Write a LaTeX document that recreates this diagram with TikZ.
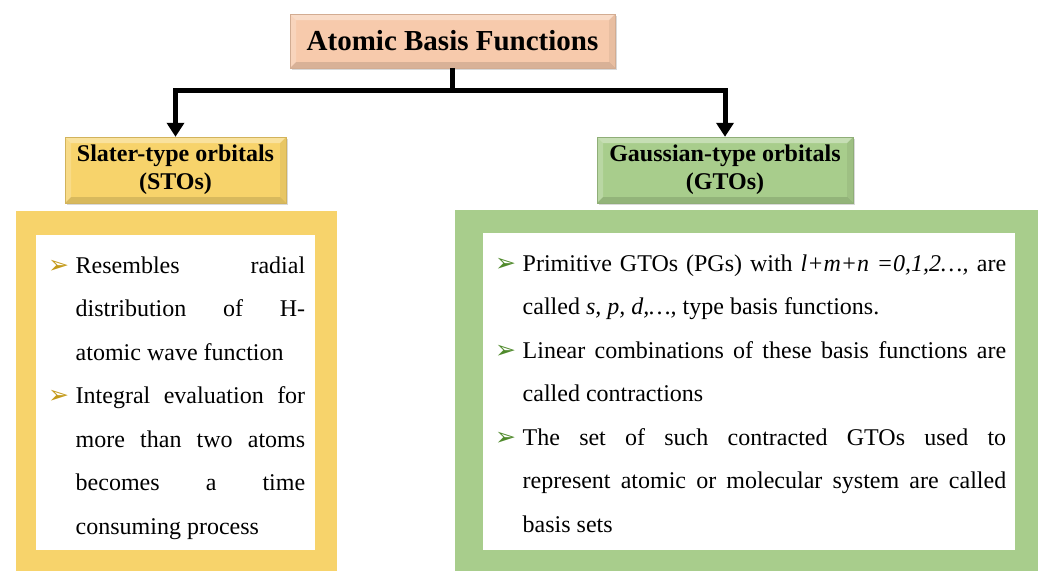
\documentclass[tikz,border=0pt]{standalone}
\usepackage{fontspec}
\setmainfont{Liberation Serif}
\newfontfamily\symfont{DejaVu Sans}
\usetikzlibrary{arrows.meta,shadows}
\definecolor{peach}{HTML}{F7CAAC}
\definecolor{gold}{HTML}{F7D36B}
\definecolor{leaf}{HTML}{A8CD8C}
\definecolor{goldbul}{HTML}{C49A18}
\definecolor{leafbul}{HTML}{4F8A2B}
\newcommand{\bul}[1]{\hangindent=27.5pt\hangafter=1\noindent\makebox[27.5pt][l]{\symfont\bfseries\fontsize{25}{25}\selectfont\textcolor{#1}{➢}}}
\tikzset{
  bevel/.style={path picture={
    \path (path picture bounding box.north west) coordinate (bnw)
          (path picture bounding box.north east) coordinate (bne)
          (path picture bounding box.south east) coordinate (bse)
          (path picture bounding box.south west) coordinate (bsw);
    \fill[white,opacity=.35] (bnw) -- (bne) -- ([shift={(-6pt,-6pt)}]bne) -- ([shift={(6pt,-6pt)}]bnw) -- cycle;
    \fill[white,opacity=.2] (bnw) -- ([shift={(6pt,-6pt)}]bnw) -- ([shift={(6pt,6pt)}]bsw) -- (bsw) -- cycle;
    \fill[black,opacity=.12] (bsw) -- ([shift={(6pt,6pt)}]bsw) -- ([shift={(-6pt,6pt)}]bse) -- (bse) -- cycle;
    \fill[black,opacity=.06] (bse) -- ([shift={(-6pt,6pt)}]bse) -- ([shift={(-6pt,-6pt)}]bne) -- (bne) -- cycle;
  }},
  head/.style={fill=#1, draw=#1!85!black, line width=.4pt, bevel,
    drop shadow={opacity=.3, shadow xshift=1.5pt, shadow yshift=-1.5pt},
    font=\bfseries\fontsize{24}{28}\selectfont, align=center, inner sep=0pt},
  panel/.style={fill=#1, draw=white, line width=3pt,
    drop shadow={opacity=.25, shadow xshift=-1pt, shadow yshift=-1.5pt}},
  whitebox/.style={fill=white, inner sep=0pt},
  bodytext/.style={anchor=base west, inner sep=0pt, align=justify},
  conn/.style={line width=5pt},
  arr/.style={conn, -{Triangle[width=17pt,length=14pt]}}
}
\begin{document}
\begin{tikzpicture}[x=1pt, y=-1pt, font=\fontsize{24}{43.5}\selectfont]
    \useasboundingbox (0,0) rectangle (1038,574);
\node[head=peach, minimum width=325pt, minimum height=54pt, font=\bfseries\fontsize{29}{32}\selectfont] (title) at (452.5,41) {Atomic Basis Functions};
\node[head=gold, minimum width=221pt, minimum height=66pt] (sto) at (175.5,170) {Slater-type orbitals\\(STOs)};
\node[head=leaf, minimum width=256pt, minimum height=66pt] (gto) at (725,170) {Gaussian-type orbitals\\(GTOs)};
\coordinate (split) at (452.5,90);
\draw[conn] (title.south) -- (split);
\draw[arr] (split) -| (sto.north);
\draw[arr] (split) -| (gto.north);
\node[panel=gold, minimum width=324pt, minimum height=363pt] (stopanel) at (176,390.5) {};
\node[panel=leaf, minimum width=620pt, minimum height=364pt] (gtopanel) at (763,390) {};
\node[whitebox, minimum width=279pt, minimum height=315pt] (stoin) at (175.5,392.5) {};
\node[whitebox, minimum width=532pt, minimum height=317pt] (gtoin) at (749,391.5) {};
    \node[bodytext, text width=257pt] (stotext) at (48,273) {\bul{goldbul}Resembles radial\linebreak distribution of H-\linebreak atomic wave function\par
\bul{goldbul}Integral evaluation for\linebreak more than two atoms\linebreak becomes a time\linebreak consuming process\par};
    \node[bodytext, text width=511pt] (gtotext) at (495,271) {\bul{leafbul}Primitive GTOs (PGs) with \textit{l+m+n =0,1,2…,} are\linebreak called \textit{s, p, d,…,} type basis functions.\par
\bul{leafbul}Linear combinations of these basis functions are\linebreak called contractions\par
\bul{leafbul}The set of such contracted GTOs used to\linebreak represent atomic or molecular system are called\linebreak basis sets\par};
\end{tikzpicture}
\end{document}
